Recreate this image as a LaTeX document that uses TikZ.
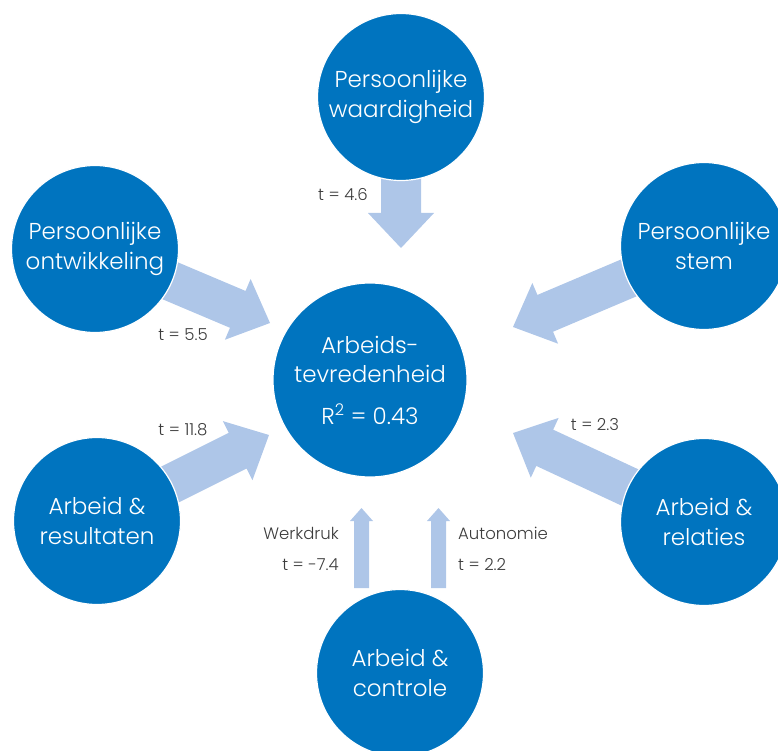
\documentclass[tikz,border=0pt]{standalone}
\usepackage{fontspec}
\setmainfont{Poppins Light}
\usetikzlibrary{calc,backgrounds}
\definecolor{circblue}{HTML}{0074BF}
\definecolor{arrblue}{HTML}{AEC6E8}
\definecolor{labgray}{HTML}{3C3C3C}
% block arrow: tail, tip, half shaft, half head, head length
\newcommand{\fatarrow}[5]{%
  \coordinate (hb) at ($(#2)!#5!(#1)$);
  \fill[arrblue] ($(#1)!#3!90:(#2)$) -- ($(hb)!#3!90:(#2)$) -- ($(hb)!#4!90:(#2)$) -- (#2)
    -- ($(hb)!#4!-90:(#2)$) -- ($(hb)!#3!-90:(#2)$) -- ($(#1)!#3!-90:(#2)$) -- cycle;}

\begin{document}
\begin{tikzpicture}[x=1pt,y=-1pt,
  bub/.style={circle,fill=circblue,draw=white,line width=1.2pt,text=white,align=center,
    inner sep=0pt,minimum size=167pt,font=\fontsize{23}{29.5}\selectfont},
  lab/.style={text=labgray,inner sep=0pt,font=\fontsize{16.5}{18}\selectfont}]
\clip (0,0) rectangle (778,751);
\node[bub,minimum size=194pt] (tev) at (370,380) {Arbeids-\\tevredenheid\\[12pt]R\textsuperscript{2} = 0.43};
\node[bub] (waard) at (401,97) {Persoonlijke\\waardigheid};
\node[bub] (ontw) at (95,249) {Persoonlijke\\ontwikkeling};
\node[bub] (stem) at (704,246) {Persoonlijke\\stem};
\node[bub] (result) at (97,521) {Arbeid \&\\resultaten};
\node[bub] (relat) at (704,522) {Arbeid \&\\relaties};
\node[bub] (contr) at (400,673) {Arbeid \&\\controle};

\begin{pgfonlayer}{background}
\coordinate (waardtip) at (401,248);
\coordinate (ontwtip) at (270,323);
\coordinate (stemtip) at (513,327);
\coordinate (resulttip) at (269,435);
\coordinate (relattip) at (513,433);
\coordinate (wd0) at (361.5,588); \coordinate (wd1) at (361.5,508);
\coordinate (au0) at (438.5,588); \coordinate (au1) at (438.5,508);
\fatarrow{waard.center}{waardtip}{20pt}{33pt}{35pt}
\fatarrow{ontw.center}{ontwtip}{20pt}{33pt}{35pt}
\fatarrow{stem.center}{stemtip}{20pt}{33pt}{35pt}
\fatarrow{result.center}{resulttip}{20pt}{33pt}{35pt}
\fatarrow{relat.center}{relattip}{20pt}{33pt}{35pt}
\fatarrow{wd0}{wd1}{7.5pt}{11.5pt}{13pt}
\fatarrow{au0}{au1}{7.5pt}{11.5pt}{13pt}
\end{pgfonlayer}

\node[lab] (t46) at (343,195) {t = 4.6};
\node[lab] (t55) at (183,335) {t = 5.5};
\node[lab] (t118) at (183,430) {t = 11.8};
\node[lab] (t23) at (595,425) {t = 2.3};
\node[lab,anchor=east] (werk) at (339,533) {Werkdruk};
\node[lab,anchor=east] (t74) at (339,565) {t = -7.4};
\node[lab,anchor=west] (auto) at (458,533) {Autonomie};
\node[lab,anchor=west] (t22) at (458,565) {t = 2.2};
\end{tikzpicture}
\end{document}
